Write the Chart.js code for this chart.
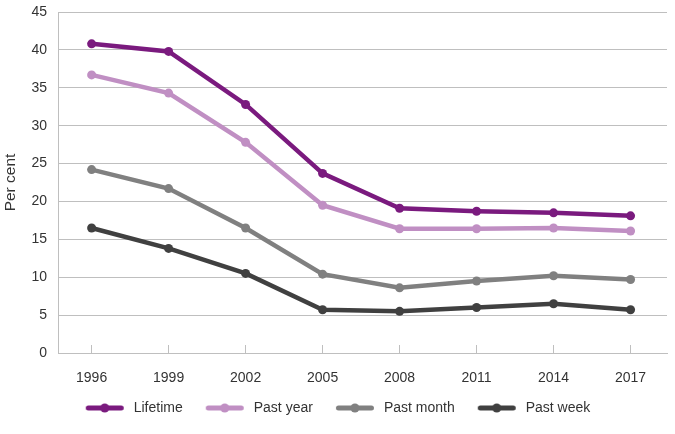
<!DOCTYPE html>
<html>
<head>
<meta charset="utf-8">
<script src="https://cdn.jsdelivr.net/npm/chart.js@4"></script>
<style>
  html, body { margin: 0; padding: 0; background: #fff; }
  #wrap { width: 675px; height: 434px; }
</style>
</head>
<body>
<div id="wrap"><canvas id="chart" width="675" height="434"></canvas></div>
<script>
const years = [1996, 1999, 2002, 2005, 2008, 2011, 2014, 2017];
const yTicks = [0, 5, 10, 15, 20, 25, 30, 35, 40, 45];

const lifetime  = [40.8, 39.8, 32.8, 23.7, 19.1, 18.7, 18.5, 18.1];
const pastYear  = [36.7, 34.3, 27.8, 19.5, 16.4, 16.4, 16.5, 16.1];
const pastMonth = [24.2, 21.7, 16.5, 10.4, 8.6, 9.5, 10.2, 9.7];
const pastWeek  = [16.5, 13.8, 10.5, 5.7, 5.5, 6.0, 6.5, 5.7];

const seriesNames = ['Lifetime', 'Past year', 'Past month', 'Past week'];
const colours = ['#7a1a7e', '#c08fc3', '#808080', '#404040'];

const textCol = '#333333';
const gridCol = '#bfbfbf';
const font = { family: '"Liberation Sans", Arial, sans-serif', size: 14 };

// line+dot swatch for the legend; drawn right of centre so the gap to the
// previous item stays wide while legend padding is small
function swatch(col) {
    const c = document.createElement('canvas');
    c.width = 52; c.height = 10;
    const g = c.getContext('2d');
    g.strokeStyle = col;
    g.lineWidth = 5;
    g.lineCap = 'round';
    g.beginPath(); g.moveTo(12.5, 5); g.lineTo(45.5, 5); g.stroke();
    g.fillStyle = col;
    g.beginPath(); g.arc(29, 5, 4.5, 0, Math.PI * 2); g.fill();
    return c;
}

const allSeries = [lifetime, pastYear, pastMonth, pastWeek];

new Chart(document.getElementById('chart'), {
    type: 'line',
    data: {
        datasets: allSeries.map((vals, i) => ({
            label: seriesNames[i],
            data: vals.map((v, j) => ({ x: years[j], y: v })),
            borderColor: colours[i],
            backgroundColor: colours[i],
            borderWidth: 4.5,
            pointRadius: 4.5,
            pointHoverRadius: 4.5,
            pointBorderWidth: 0,
            tension: 0
        }))
    },
    options: {
        responsive: false,
        animation: false,
        layout: { padding: { top: 4, right: 8, bottom: 9, left: 0 } },
        plugins: {
            tooltip: { enabled: false },
            legend: {
                position: 'bottom',
                labels: {
                    usePointStyle: true,
                    pointStyleWidth: 50,
                    padding: 14,
                    color: textCol,
                    font: font,
                    generateLabels: chart => chart.data.datasets.map((ds, i) => ({
                        text: ds.label,
                        pointStyle: swatch(colours[i]),
                        fillStyle: colours[i],
                        strokeStyle: colours[i],
                        lineWidth: 0,
                        fontColor: textCol,
                        hidden: false,
                        datasetIndex: i
                    }))
                }
            }
        },
        scales: {
            x: {
                type: 'linear',
                min: 1994.69,
                max: 2018.42,
                afterBuildTicks: s => { s.ticks = years.map(v => ({ value: v })); },
                afterFit: s => { s.height = 34; },
                grid: { drawOnChartArea: false, color: gridCol, tickLength: -8 },
                border: { color: gridCol },
                ticks: {
                    color: textCol,
                    font: font,
                    padding: 25,
                    maxRotation: 0,
                    callback: v => String(v)
                }
            },
            y: {
                min: 0,
                max: 45,
                afterBuildTicks: s => { s.ticks = yTicks.map(v => ({ value: v })); },
                afterFit: s => { s.width = 58; s.paddingTop = 12; },
                grid: { color: gridCol, drawTicks: false },
                border: { color: gridCol },
                ticks: { color: textCol, font: font, padding: 11 },
                title: {
                    display: true,
                    text: 'Per cent',
                    color: textCol,
                    font: { family: font.family, size: 15.5 },
                    padding: { top: 1, bottom: 0 }
                }
            }
        }
    }
});
</script>
</body>
</html>
